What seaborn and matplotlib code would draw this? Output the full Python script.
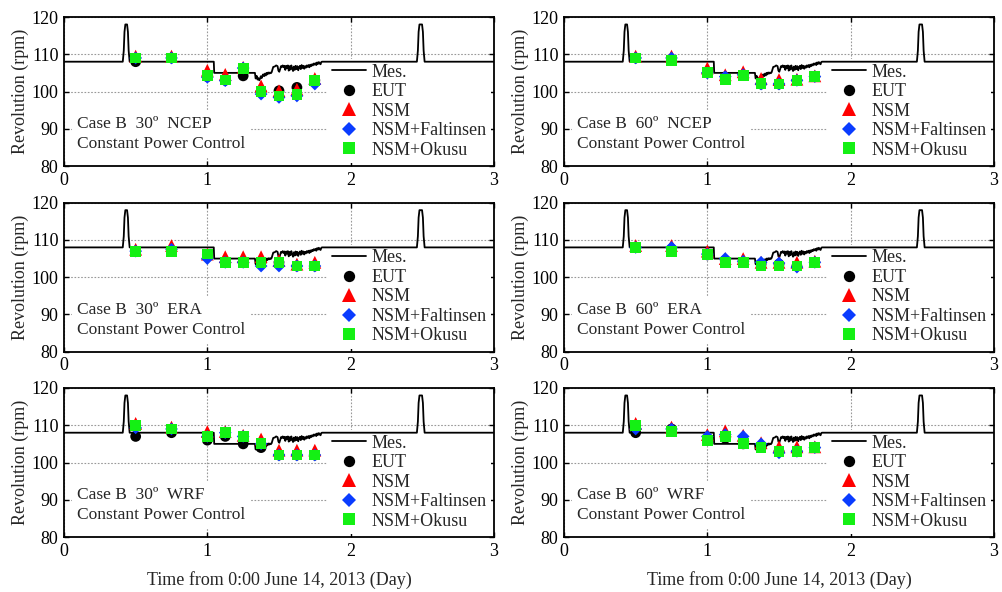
import numpy as np
import pandas as pd
import matplotlib
matplotlib.use("Agg")
import matplotlib.pyplot as plt
from matplotlib.lines import Line2D
import seaborn as sns

# Sampling times of the computed cases (days from 0:00 June 14, 2013)
times = [0.5, 0.75, 1.0, 1.125, 1.25, 1.375, 1.5, 1.625, 1.75]

# Measured propeller revolution (rpm)
mes_t = [0.0, 0.410, 0.417, 0.422, 0.428, 0.440, 0.446, 0.451, 0.458,
         1.045, 1.048, 1.332,
         1.337, 1.344, 1.350, 1.356, 1.362, 1.367, 1.373, 1.379, 1.385, 1.390,
         1.396, 1.402, 1.408, 1.413, 1.419, 1.425, 1.431, 1.437, 1.443, 1.449,
         1.455, 1.460, 1.470, 1.480, 1.490, 1.496, 1.502, 1.508, 1.514, 1.520,
         1.526, 1.532, 1.538, 1.544, 1.550, 1.556, 1.562, 1.568, 1.574, 1.580,
         1.586, 1.592, 1.598, 1.604, 1.610, 1.616, 1.622, 1.628, 1.634, 1.640,
         1.646, 1.652, 1.658, 1.664, 1.670, 1.676, 1.682, 1.688, 1.694, 1.700,
         1.706, 1.712, 1.718, 1.724, 1.730, 1.736, 1.742, 1.748, 1.754, 1.760,
         1.766, 1.772, 1.778, 1.784, 1.790, 1.795, 1.800,
         2.462, 2.469, 2.474, 2.480, 2.498, 2.504, 2.509, 2.516, 3.0]
mes_rpm = [108, 108, 111, 116, 118, 118, 116, 111, 108,
           108, 105, 105,
           103.5, 104.2, 103.2, 103.6, 103.0, 103.4, 104.1, 103.6, 104.3, 104.6,
           104.1, 104.8, 104.3, 105.0, 104.6, 105.1, 104.8, 105.1, 104.9, 105.2,
           106.0, 106.6, 106.7, 107.0, 106.8, 105.6, 105.3, 106.0, 106.8, 106.6,
           107.0, 106.5, 106.9, 105.8, 106.9, 106.3, 107.0, 105.6, 106.8, 105.9,
           107.0, 106.2, 105.5, 106.7, 105.8, 106.9, 106.0, 106.8, 105.7, 106.5,
           106.9, 106.0, 107.1, 106.3, 106.9, 106.1, 106.8, 106.4, 107.0, 106.6,
           107.1, 106.5, 107.2, 106.8, 107.3, 107.0, 107.5, 107.2, 107.6, 107.1,
           107.8, 107.4, 107.9, 107.5, 107.3, 107.9, 108,
           108, 111, 116, 118, 118, 116, 111, 108, 108]

# Computed revolution (rpm) for each case
ncep30_eut = [108, 109, 104, 103, 104.2, 100, 100.2, 101.1, 103]
ncep30_nsm = [109.5, 109.5, 105.7, 104.6, 106.5, 101.5, 100.2, 100.6, 103.5]
ncep30_falt = [109, 109, 103.8, 102.9, 106.3, 99.3, 98.4, 98.8, 102]
ncep30_okusu = [109, 109, 104.3, 103.1, 106.2, 99.9, 98.8, 99.1, 103]

ncep60_eut = [109, 108.5, 105, 103.5, 104.5, 102, 102, 103, 104]
ncep60_nsm = [109.5, 109.5, 106.3, 104.5, 105.3, 103.5, 103.2, 103.3, 104.2]
ncep60_falt = [109, 109, 105, 104, 104.5, 102, 102, 103, 104]
ncep60_okusu = [109, 108.3, 105, 103.2, 104.2, 102.2, 102, 103, 104]

era30_eut = [107, 107, 106, 104, 104, 104, 104, 103, 103]
era30_nsm = [107.5, 108.5, 106.2, 105.5, 105.5, 105.5, 104.5, 103.5, 104]
era30_falt = [107, 107.5, 105, 104, 104, 103, 103, 103, 103]
era30_okusu = [107, 107, 106.2, 104, 104, 104, 104, 103, 103]

era60_eut = [108, 107.5, 106, 104.5, 104, 103.5, 103.5, 103, 104]
era60_nsm = [108.5, 108.5, 107, 105, 105, 104, 104, 104, 104.3]
era60_falt = [108, 108, 106.2, 105, 104.3, 104, 103.8, 102.7, 104]
era60_okusu = [108, 107, 106, 104, 104, 103, 103, 103, 104]

wrf30_eut = [107, 108, 106, 107, 105, 104, 102, 102, 102]
wrf30_nsm = [110.5, 109.5, 108.3, 108.3, 107.3, 106.3, 103.3, 103.3, 103.3]
wrf30_falt = [109.3, 109, 107, 108, 107, 105, 102, 102, 102]
wrf30_okusu = [110, 109, 107, 108, 107, 105, 102, 102, 102]

wrf60_eut = [108, 109, 106, 106.5, 105, 104, 103, 103, 104]
wrf60_nsm = [110.5, 109.5, 107.5, 108.5, 107.3, 105.3, 104.2, 104.2, 104.2]
wrf60_falt = [109, 109, 107, 107.5, 107, 105, 102.6, 103, 104]
wrf60_okusu = [110, 108.3, 106, 107, 105, 104, 103, 103, 104]

models = ["EUT", "NSM", "NSM+Faltinsen", "NSM+Okusu"]
colors = {"EUT": "black", "NSM": "#ff0000",
          "NSM+Faltinsen": "#0a3cff", "NSM+Okusu": "#14f014"}
markers = {"EUT": "o", "NSM": "^", "NSM+Faltinsen": "D", "NSM+Okusu": "s"}
sizes = {"EUT": 60, "NSM": 85, "NSM+Faltinsen": 42, "NSM+Okusu": 60}

panels = [
    ("Case B  30\u00ba  NCEP", [ncep30_eut, ncep30_nsm, ncep30_falt, ncep30_okusu]),
    ("Case B  60\u00ba  NCEP", [ncep60_eut, ncep60_nsm, ncep60_falt, ncep60_okusu]),
    ("Case B  30\u00ba  ERA", [era30_eut, era30_nsm, era30_falt, era30_okusu]),
    ("Case B  60\u00ba  ERA", [era60_eut, era60_nsm, era60_falt, era60_okusu]),
    ("Case B  30\u00ba  WRF", [wrf30_eut, wrf30_nsm, wrf30_falt, wrf30_okusu]),
    ("Case B  60\u00ba  WRF", [wrf60_eut, wrf60_nsm, wrf60_falt, wrf60_okusu]),
]

sns.set_theme(style="ticks")
plt.rcParams["font.family"] = ["Liberation Serif", "DejaVu Serif"]

W, H = 1003, 592
fig = plt.figure(figsize=(W / 100, H / 100), dpi=100)

col_left = [64, 564]
row_top = [17, 202.7, 388]
ax_w, ax_h = 430, 149

mes_df = pd.DataFrame({"t": mes_t, "rpm": mes_rpm})

for i, (case_label, series) in enumerate(panels):
    r, c = divmod(i, 2)
    x0 = col_left[c]
    y0 = row_top[r]
    ax = fig.add_axes([x0 / W, 1 - (y0 + ax_h) / H, ax_w / W, ax_h / H])
    ax.set_axisbelow(True)
    ax.grid(True, linestyle=(0, (1.5, 1.5)), color="0.6", linewidth=0.8)

    sns.lineplot(data=mes_df, x="t", y="rpm", ax=ax, color="black",
                 linewidth=1.3, estimator=None, sort=False, zorder=3)

    for m, vals in zip(models, series):
        d = pd.DataFrame({"t": times, "rpm": vals})
        sns.scatterplot(data=d, x="t", y="rpm", ax=ax, color=colors[m],
                        marker=markers[m], s=sizes[m], linewidth=0,
                        edgecolor="none", zorder=4, legend=False)

    ax.set_xlim(0, 3)
    ax.set_ylim(80, 120)
    ax.set_xticks([0, 1, 2, 3])
    ax.set_yticks([80, 90, 100, 110, 120])
    ax.tick_params(direction="in", top=True, right=True, length=3.5,
                   width=1.0, labelsize=13, pad=4, colors="black")
    for sp in ax.spines.values():
        sp.set_linewidth(1.3)
        sp.set_color("black")
    ax.set_ylabel("Revolution (rpm)", fontsize=13, labelpad=2)
    if r == 2:
        ax.set_xlabel("Time from 0:00 June 14, 2013 (Day)", fontsize=13,
                      labelpad=8)
    else:
        ax.set_xlabel("")

    ax.text(0.03, 0.095, case_label + "\nConstant Power Control",
            transform=ax.transAxes, fontsize=12.5, va="bottom", ha="left",
            linespacing=1.3, zorder=5,
            bbox=dict(boxstyle="square,pad=0.3", fc="white", ec="none"))

    handles = [Line2D([], [], color="black", linewidth=1.3, label="Mes.")]
    for m in models:
        handles.append(Line2D([], [], linestyle="none", marker=markers[m],
                              color=colors[m], markeredgewidth=0,
                              markersize=np.sqrt(sizes[m]) * 1.05, label=m))
    leg = ax.legend(handles=handles, loc="lower right",
                    bbox_to_anchor=(1.0, 0.0), fontsize=13, frameon=True,
                    fancybox=False, framealpha=1.0, edgecolor="none",
                    facecolor="white", borderaxespad=0.15, borderpad=0.25,
                    handlelength=1.9, handletextpad=0.3, labelspacing=0.14)
    # legend box sits above the grid but beneath the data
    leg.set_zorder(2.5)

fig.savefig("out.png", dpi=100)
